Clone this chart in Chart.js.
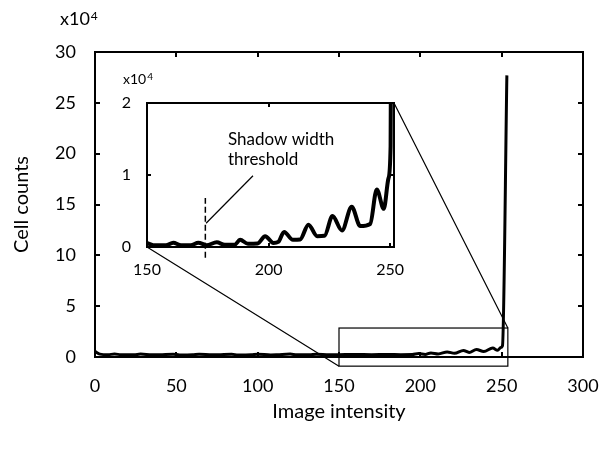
<!DOCTYPE html>
<html>
<head>
<meta charset="utf-8">
<script src="https://cdn.jsdelivr.net/npm/chart.js@4/dist/chart.umd.min.js"></script>
<style>
  html, body { margin: 0; padding: 0; background: #fff; }
  #wrap { position: relative; width: 605px; height: 450px; }
  #main { position: absolute; left: 0; top: 0; }
  #inset { position: absolute; left: 90px; top: 60px; }
</style>
</head>
<body>
<div id="wrap">
  <canvas id="main" width="605" height="450"></canvas>
  <canvas id="inset" width="330" height="225"></canvas>
</div>
<script>
const FONT = 'Lato, "Open Sans", sans-serif';

// main plot: cell counts (x10^4) against image intensity
const mainIntensity = [0, 3, 8, 12, 16, 24, 28, 35, 40, 48, 52, 60, 64, 72, 76, 84, 88, 96, 100, 108, 112, 120, 124, 132, 136, 144,
  150, 160, 170, 180, 188, 195, 199, 203, 206.5, 211, 216.5, 221, 226.5, 230, 234.5, 239, 244.5, 247.5, 249.5, 250.5, 253.2];
const mainCounts = [0.55, 0.28, 0.22, 0.3, 0.22, 0.22, 0.29, 0.21, 0.22, 0.28, 0.2, 0.22, 0.28, 0.21, 0.22, 0.27, 0.2, 0.22, 0.28, 0.2, 0.22, 0.29, 0.21, 0.22, 0.28, 0.21,
  0.22, 0.25, 0.22, 0.25, 0.23, 0.24, 0.34, 0.25, 0.4, 0.3, 0.5, 0.36, 0.64, 0.45, 0.74, 0.54, 0.88, 0.66, 0.93, 1.1, 27.7];

// inset: zoom on 150-252
const insetIntensity = [150, 152.6, 157.8, 160.8, 164, 168, 171.1, 174.5, 178.7, 182, 186, 188.3, 191.5, 195.5, 198.6, 202, 204,
  206.4, 210, 213, 216.4, 220, 223, 226.3, 230.2, 234.2, 237.7, 241.8, 244.5, 247.4, 249.3, 250.2, 253.2];
const insetCounts = [0.056, 0.024, 0.024, 0.06, 0.025, 0.025, 0.06, 0.025, 0.065, 0.03, 0.03, 0.1, 0.045, 0.05, 0.15, 0.055, 0.07,
  0.21, 0.1, 0.105, 0.31, 0.15, 0.155, 0.43, 0.23, 0.56, 0.29, 0.32, 0.8, 0.53, 0.95, 1.4, 27.7];

const mainXTicks = [0, 50, 100, 150, 200, 250, 300];
const mainYTicks = [0, 5, 10, 15, 20, 25, 30];
const insetXTicks = [150, 200, 250];
const insetYTicks = [0, 1, 2];

// zoom box drawn on the main plot, threshold marker + pointer in the inset
const zoomBoxX = [150, 253.8];
const zoomBoxY = [-0.9, 2.85];
const thresholdX = 174;
const thresholdY = [-0.15, 0.68];
const pointerFrom = [193.6, 0.99];
const pointerTo = [174.3, 0.33];
const noteLines = ['Shadow width', 'threshold'];
const noteAt = [183.3, 1.49];

const toPts = (xs, ys) => xs.map((x, i) => ({ x, y: ys[i] }));

function drawFrame(chart, len, xTicks, yTicks) {
  const { ctx, chartArea: a, scales: { x, y } } = chart;
  ctx.save();
  ctx.strokeStyle = '#000';
  ctx.lineWidth = 2;
  ctx.strokeRect(a.left, a.top, a.right - a.left, a.bottom - a.top);
  ctx.beginPath();
  xTicks.forEach((v) => {
    const px = Math.round(x.getPixelForValue(v));
    ctx.moveTo(px, a.bottom); ctx.lineTo(px, a.bottom - len);
    ctx.moveTo(px, a.top); ctx.lineTo(px, a.top + len);
  });
  yTicks.forEach((v) => {
    const py = Math.round(y.getPixelForValue(v));
    ctx.moveTo(a.left, py); ctx.lineTo(a.left + len, py);
    ctx.moveTo(a.right, py); ctx.lineTo(a.right - len, py);
  });
  ctx.stroke();
  ctx.restore();
}

function drawExp(ctx, x, y, big, small, rise) {
  ctx.save();
  ctx.fillStyle = '#000';
  ctx.textBaseline = 'alphabetic';
  ctx.textAlign = 'left';
  ctx.font = big + 'px ' + FONT;
  ctx.fillText('x10', x, y);
  const w = ctx.measureText('x10').width;
  ctx.font = small + 'px ' + FONT;
  ctx.fillText('4', x + w + 1, y - rise);
  ctx.restore();
}

// fixed-size axis; label overflow padding is dropped so the plot area stays where layout puts it
function axisScale(min, max, ticks, size, pad, boxSize) {
  return {
    type: 'linear', min, max,
    afterBuildTicks: (s) => { s.ticks = ticks.map((v) => ({ value: v })); },
    grid: { display: false, drawTicks: false },
    border: { display: false },
    ticks: { color: '#000', font: { family: FONT, size }, padding: pad, maxRotation: 0, autoSkip: false },
    afterFit: (s) => {
      if (s.isHorizontal()) s.height = boxSize; else s.width = boxSize;
      s.paddingLeft = s.paddingRight = s.paddingTop = s.paddingBottom = 0;
    },
  };
}

const insetPlugin = {
  id: 'insetDecor',
  afterDraw(chart) {
    const { ctx, chartArea: a, scales: { x, y } } = chart;
    drawFrame(chart, 4, insetXTicks, insetYTicks);
    ctx.save();
    ctx.strokeStyle = '#000';
    ctx.lineWidth = 1.5;
    ctx.setLineDash([6, 3]);
    ctx.beginPath();
    ctx.moveTo(x.getPixelForValue(thresholdX), y.getPixelForValue(thresholdY[0]));
    ctx.lineTo(x.getPixelForValue(thresholdX), y.getPixelForValue(thresholdY[1]));
    ctx.stroke();
    ctx.setLineDash([]);
    ctx.lineWidth = 1.2;
    ctx.beginPath();
    ctx.moveTo(x.getPixelForValue(pointerFrom[0]), y.getPixelForValue(pointerFrom[1]));
    ctx.lineTo(x.getPixelForValue(pointerTo[0]), y.getPixelForValue(pointerTo[1]));
    ctx.stroke();
    ctx.fillStyle = '#000';
    ctx.font = '17px ' + FONT;
    ctx.textBaseline = 'middle';
    const nx = x.getPixelForValue(noteAt[0]);
    const ny = y.getPixelForValue(noteAt[1]);
    noteLines.forEach((t, i) => ctx.fillText(t, nx, ny + i * 20));
    ctx.restore();
    drawExp(ctx, a.left - 24, a.top - 19, 14, 10, 4);
  },
};

const insetChart = new Chart(document.getElementById('inset'), {
  type: 'line',
  data: {
    datasets: [{
      data: toPts(insetIntensity, insetCounts),
      borderColor: '#000', borderWidth: 4, pointRadius: 0,
      cubicInterpolationMode: 'monotone', fill: false,
    }],
  },
  options: {
    responsive: false, animation: false,
    layout: { padding: { left: 0, top: 43, right: 26, bottom: 0 } },
    plugins: { legend: { display: false }, tooltip: { enabled: false } },
    scales: {
      x: axisScale(150, 251.6, insetXTicks, 16, 13, 38),
      y: axisScale(0, 2, insetYTicks, 16, 16, 57),
    },
  },
  plugins: [insetPlugin],
});

const mainPlugin = {
  id: 'mainDecor',
  afterDraw(chart) {
    const { ctx, chartArea: a, scales: { x, y } } = chart;
    drawFrame(chart, 5, mainXTicks, mainYTicks);
    ctx.save();
    ctx.strokeStyle = '#000';
    ctx.lineWidth = 1.2;
    const bx0 = x.getPixelForValue(zoomBoxX[0]);
    const bx1 = x.getPixelForValue(zoomBoxX[1]);
    const by0 = y.getPixelForValue(zoomBoxY[0]);
    const by1 = y.getPixelForValue(zoomBoxY[1]);
    ctx.strokeRect(bx0, by1, bx1 - bx0, by0 - by1);
    // lines from the inset corners to the zoom box
    const ia = insetChart.chartArea;
    const el = document.getElementById('inset');
    const ox = el.offsetLeft, oy = el.offsetTop;
    ctx.beginPath();
    ctx.moveTo(ia.left + ox, ia.bottom + oy);
    ctx.lineTo(bx0, by0);
    ctx.moveTo(ia.right + ox, ia.top + oy);
    ctx.lineTo(bx1, by1);
    ctx.stroke();
    ctx.restore();
    drawExp(ctx, a.left - 35, a.top - 27, 18, 12, 5);
  },
};

const mainScaleX = axisScale(0, 300, mainXTicks, 18, 18, 93);
mainScaleX.title = { display: true, text: 'Image intensity', color: '#000', font: { family: FONT, size: 20 }, padding: { bottom: 26 } };
const mainScaleY = axisScale(0, 30, mainYTicks, 18, 19, 95);
mainScaleY.title = { display: true, text: 'Cell counts', color: '#000', font: { family: FONT, size: 20 }, padding: { top: 10 } };

new Chart(document.getElementById('main'), {
  type: 'line',
  data: {
    datasets: [{
      data: toPts(mainIntensity, mainCounts),
      borderColor: '#000', borderWidth: 3, pointRadius: 0,
      cubicInterpolationMode: 'monotone', fill: false,
    }],
  },
  options: {
    responsive: false, animation: false,
    layout: { padding: { left: 0, top: 52, right: 22, bottom: 0 } },
    plugins: { legend: { display: false }, tooltip: { enabled: false } },
    scales: { x: mainScaleX, y: mainScaleY },
  },
  plugins: [mainPlugin],
});
</script>
</body>
</html>
